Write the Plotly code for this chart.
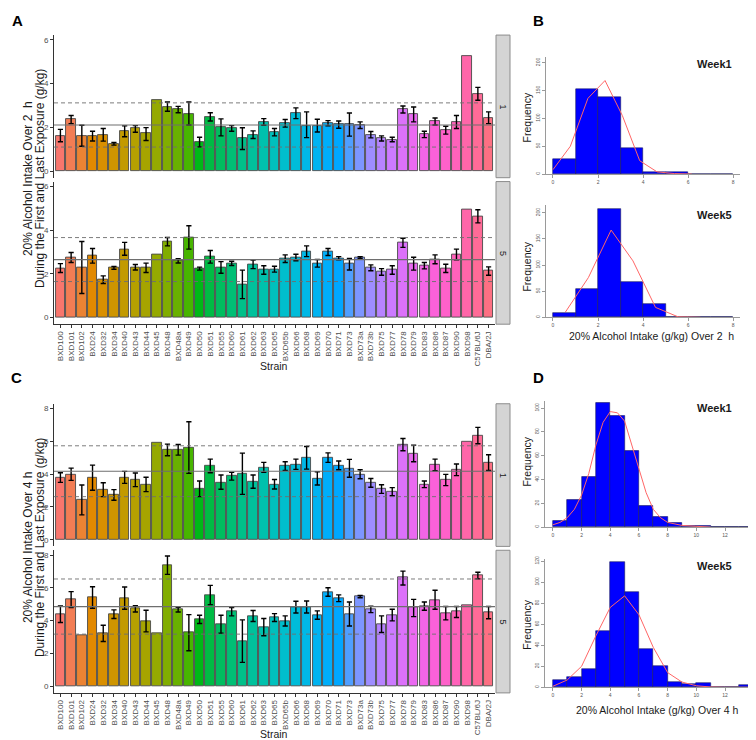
import math
import plotly.graph_objects as go

W, H = 756, 740

strains = ["BXD100", "BXD101", "BXD102", "BXD24", "BXD32", "BXD34", "BXD40", "BXD43", "BXD44", "BXD45",
           "BXD48", "BXD48a", "BXD49", "BXD50", "BXD51", "BXD55", "BXD60", "BXD61", "BXD62", "BXD63",
           "BXD65", "BXD65b", "BXD66", "BXD68", "BXD69", "BXD70", "BXD71", "BXD73", "BXD73a", "BXD73b",
           "BXD75", "BXD77", "BXD78", "BXD79", "BXD83", "BXD86", "BXD87", "BXD90", "BXD98", "C57BL/6J", "DBA/2J"]

# panel A, 2 h intake, week 1 / week 5 (mean, upper and lower end of error bar)
a1_mean = [1.61, 2.37, 1.61, 1.60, 1.67, 1.26, 1.82, 1.95, 1.72, 3.27, 2.93, 2.83, 2.63, 1.34, 2.49, 2.01, 1.96,
           1.49, 1.67, 2.26, 1.78, 2.20, 2.64, 2.08, 2.08, 2.19, 2.14, 2.14, 2.10, 1.67, 1.49, 1.44, 2.83, 2.60,
           1.69, 2.28, 1.87, 2.23, 5.24, 3.54, 2.43]
a1_hi = [1.91, 2.54, 2.10, 1.82, 1.95, 1.31, 2.07, 2.08, 1.99, None, 3.16, 2.96, 3.16, 1.55, 2.67, 2.39, 2.08,
         1.98, 1.84, 2.40, 1.95, 2.36, 2.89, 2.71, 2.37, 2.31, 2.29, 2.66, 2.25, 1.81, 1.61, 1.55, 2.98, 2.93,
         1.82, 2.43, 2.05, 2.54, None, 3.83, 2.71]
a1_lo = [1.34, 2.17, 1.14, 1.38, 1.37, 1.19, 1.57, 1.78, 1.40, None, 2.74, 2.67, 2.11, 1.11, 2.29, 1.61, 1.82,
         0.99, 1.49, 2.10, 1.61, 2.01, 2.40, 1.53, 1.79, 2.07, 1.96, 1.60, 1.95, 1.52, 1.38, 1.34, 2.66, 2.25,
         1.53, 2.11, 1.69, 1.95, None, 3.24, 2.17]

a2_mean = [2.26, 2.75, 2.31, 2.84, 1.73, 2.27, 3.13, 2.31, 2.29, 2.87, 3.48, 2.60, 3.66, 2.24, 2.79, 2.31, 2.49,
           1.53, 2.43, 2.18, 2.21, 2.70, 2.75, 3.04, 2.47, 3.01, 2.72, 2.46, 2.75, 2.27, 2.09, 2.18, 3.44, 2.47,
           2.38, 2.67, 2.24, 2.89, 4.92, 4.63, 2.13]
a2_hi = [2.47, 2.98, 3.48, 3.16, 1.91, 2.34, 3.44, 2.43, 2.49, None, 3.66, 2.69, 4.20, 2.31, 3.07, 2.56, 2.58,
         2.17, 2.63, 2.37, 2.35, 2.87, 2.90, 3.28, 2.66, 3.16, 2.79, 2.70, 2.79, 2.41, 2.24, 2.37, 3.63, 2.76,
         2.52, 2.87, 2.44, 3.13, None, 4.93, 2.32]
a2_lo = [2.06, 2.52, 1.10, 2.49, 1.56, 2.21, 2.85, 2.18, 2.06, None, 3.28, 2.50, 3.13, 2.17, 2.49, 2.03, 2.38,
         0.87, 2.24, 1.98, 2.08, 2.52, 2.60, 2.79, 2.31, 2.84, 2.64, 2.18, 2.70, 2.14, 1.94, 1.98, 3.21, 2.17,
         2.23, 2.46, 2.06, 2.64, None, 4.33, 1.94]

# panel C, 4 h intake
c1_mean = [3.81, 3.99, 2.43, 3.79, 3.06, 2.73, 3.81, 3.66, 3.38, 5.91, 5.51, 5.51, 5.61, 3.12, 4.51, 3.50, 3.89,
           4.03, 3.54, 4.41, 3.38, 4.49, 4.60, 5.00, 3.74, 5.00, 4.53, 4.35, 3.99, 3.48, 3.10, 2.94, 5.81, 5.26,
           3.38, 4.55, 3.64, 4.25, 5.98, 6.35, 4.70]
c1_hi = [4.09, 4.37, 3.34, 4.55, 3.48, 3.06, 4.17, 4.07, 3.81, None, 5.83, 5.81, 7.19, 3.58, 4.92, 3.95, 4.11,
         5.28, 3.95, 4.72, 3.68, 4.76, 4.92, 5.69, 4.15, 5.30, 4.80, 4.90, 4.27, 3.74, 3.36, 3.18, 6.17, 5.77,
         3.58, 4.92, 3.99, 4.62, None, 6.85, 5.18]
c1_lo = [3.50, 3.62, 1.52, 3.02, 2.63, 2.41, 3.44, 3.24, 2.94, None, 5.12, 5.16, 4.05, 2.63, 4.09, 3.08, 3.64,
         2.77, 3.14, 4.11, 3.10, 4.23, 4.29, 4.31, 3.34, 4.72, 4.27, 3.81, 3.72, 3.20, 2.83, 2.69, 5.43, 4.76,
         3.18, 4.21, 3.30, 3.91, None, 5.85, 4.22]

c2_mean = [4.39, 5.30, 3.14, 5.45, 3.22, 4.39, 5.38, 4.74, 3.99, 3.22, 7.39, 4.68, 3.28, 4.07, 5.57, 3.79, 4.55,
           2.75, 4.27, 3.60, 4.19, 3.99, 4.84, 4.84, 4.33, 5.75, 5.38, 4.41, 5.47, 4.70, 3.79, 4.35, 6.62, 4.80,
           4.90, 5.26, 4.45, 4.55, 4.95, 6.75, 4.49]
c2_hi = [4.90, 5.77, None, 6.07, 3.72, 4.66, 6.05, 4.92, 4.64, None, 7.94, 4.82, 4.37, 4.33, 6.15, 4.33, 4.80,
         4.05, 4.62, 4.13, 4.43, 4.29, 5.18, 5.20, 4.60, 6.01, 5.57, 5.14, 5.53, 4.88, 4.29, 4.70, 7.02, 5.30,
         5.14, 5.85, 4.86, 4.86, None, 6.95, 4.86]
c2_lo = [3.89, 4.80, None, 4.76, 2.73, 4.13, 4.70, 4.53, 3.32, None, 6.82, 4.53, 2.17, 3.83, 4.98, 3.24, 4.29,
         1.46, 3.95, 3.08, 3.95, 3.68, 4.47, 4.47, 4.09, 5.49, 5.16, 3.68, 5.40, 4.49, 3.28, 3.99, 6.17, 4.25,
         4.64, 4.70, 4.05, 4.19, None, 6.55, 4.12]

# population mean and sd (solid and dashed reference lines)
a1_avg, a1_sd = 2.11, 1.01
a2_avg, a2_sd = 2.655, 1.005
c1_avg, c1_sd = 4.18, 1.55
c2_avg, c2_sd = 4.86, 1.68

# histograms
b_edges = [0, 1, 2, 3, 4, 5, 6, 7, 8]
b1_counts = [26, 152, 139, 46, 4, 3, 0, 0]
b2_counts = [9, 55, 208, 68, 26, 0, 0, 0]
b1_line_x = [0.0, 0.77, 1.55, 2.31, 3.08, 3.85, 4.62, 5.39, 6.16]
b1_line_y = [8, 50, 136, 168, 105, 24, 4, 1, 0]
b2_line_x = [0.55, 1.57, 2.58, 3.55, 4.55, 5.55, 6.55]
b2_line_y = [10, 76, 167, 108, 19, 1, 0]

d_edges = [0, 1, 2, 3, 4, 5, 6, 7, 8, 9, 10, 11, 12, 13, 14]
d1_counts = [5, 23, 42, 104, 93, 64, 18, 9, 4, 1, 1, 0, 0, 0]
d2_counts = [7, 10, 17, 54, 119, 91, 36, 20, 5, 3, 4, 0, 0, 2]
d1_line_x = [0, 0.5, 1, 1.5, 2, 2.5, 3, 3.5, 4, 4.5, 5, 5.5, 6, 6.5, 7, 7.5, 8, 9, 10, 11]
d1_line_y = [2, 4, 8, 15, 27, 45, 69, 88, 97, 96, 89, 70, 49, 29, 15, 8, 4, 1.5, 0.5, 0]
d2_line_x = [0, 1, 2, 3, 4, 5, 6, 7, 8, 9, 10, 11, 12, 13, 14]
d2_line_y = [1, 7, 20, 49, 76, 87, 69, 38, 14, 5, 1.5, 0.3, 0, 0, 0]


def hcl_hex(h, c, l):
    # same conversion as R's grDevices::hcl
    hr = math.radians(h)
    U = c * math.cos(hr)
    V = c * math.sin(hr)
    Y = 100 * (((l + 16) / 116) ** 3 if l > 7.999592 else l / 903.3)
    u = U / (13 * l) + 0.1978398
    v = V / (13 * l) + 0.4683363
    X = 9.0 * Y * u / (4 * v)
    Z = -X / 3 - 5 * Y + 3 * Y / v
    X, Y, Z = X / 100, Y / 100, Z / 100
    rgb = [3.240479 * X - 1.537150 * Y - 0.498535 * Z,
           -0.969256 * X + 1.875992 * Y + 0.041556 * Z,
           0.055648 * X - 0.204043 * Y + 1.057311 * Z]
    out = []
    for t in rgb:
        t = 12.92 * t if t <= 0.0031308 else 1.055 * t ** (1 / 2.4) - 0.055
        out.append(int(round(255 * min(max(t, 0), 1))))
    return "#%02X%02X%02X" % tuple(out)


n = len(strains)
colors = [hcl_hex(15 + 360 * i / n, 100, 65) for i in range(n)]


def xd(p0, p1):
    return [p0 / W, p1 / W]


def yd(top, bottom):
    return [1 - bottom / H, 1 - top / H]


FONT = "Liberation Sans, Arial, sans-serif"
fig = go.Figure()

bar_panels = [
    ("x", "y", a1_mean, a1_hi, a1_lo, a1_avg, a1_sd),
    ("x2", "y2", a2_mean, a2_hi, a2_lo, a2_avg, a2_sd),
    ("x3", "y3", c1_mean, c1_hi, c1_lo, c1_avg, c1_sd),
    ("x4", "y4", c2_mean, c2_hi, c2_lo, c2_avg, c2_sd),
]

shapes = []
for xa, ya, m, hi, lo, avg, sd in bar_panels:
    fig.add_trace(go.Bar(x=strains, y=m, xaxis=xa, yaxis=ya, width=0.9,
                         marker=dict(color=colors, line=dict(color="#4a4a4a", width=0.9)),
                         showlegend=False))
    ey = [v if h is not None else None for v, h in zip(m, hi)]
    fig.add_trace(go.Scatter(
        x=strains, y=ey, xaxis=xa, yaxis=ya, mode="markers",
        marker=dict(size=1, color="rgba(0,0,0,0)"), showlegend=False,
        error_y=dict(type="data", symmetric=False,
                     array=[(h - v) if h is not None else None for v, h in zip(m, hi)],
                     arrayminus=[(v - l) if l is not None else None for v, l in zip(m, lo)],
                     color="black", thickness=1.4, width=2.6)))
    xdom = xa + " domain"
    shapes.append(dict(type="line", xref=xdom, yref=ya, x0=0, x1=1, y0=avg, y1=avg,
                       line=dict(color="#6e6e6e", width=1.2), layer="above"))
    for yy in (avg - sd, avg + sd):
        shapes.append(dict(type="line", xref=xdom, yref=ya, x0=0, x1=1, y0=yy, y1=yy,
                           line=dict(color="#6e6e6e", width=0.9, dash="4px,3px"), layer="above"))

hist_panels = [
    ("x5", "y5", b_edges, b1_counts, b1_line_x, b1_line_y),
    ("x6", "y6", b_edges, b2_counts, b2_line_x, b2_line_y),
    ("x7", "y7", d_edges, d1_counts, d1_line_x, d1_line_y),
    ("x8", "y8", d_edges, d2_counts, d2_line_x, d2_line_y),
]
for xa, ya, edges, counts, lx, ly in hist_panels:
    centers = [(a + b) / 2 for a, b in zip(edges[:-1], edges[1:])]
    fig.add_trace(go.Bar(x=centers, y=counts, width=1, xaxis=xa, yaxis=ya, showlegend=False,
                         marker=dict(color="#0000FF", line=dict(color="#1a1a5a", width=0.6))))
    fig.add_trace(go.Scatter(x=lx, y=ly, mode="lines", xaxis=xa, yaxis=ya, showlegend=False,
                             line=dict(color="#FF6666", width=1)))

# facet geometry (pixels)
A1 = (24.2, 167.6)
A2 = (171.5, 314.9)
C1 = (394.9, 538.3)
C2 = (542.2, 685.6)
PX = (46, 487)

cat_axis = dict(type="category", categoryorder="array", categoryarray=strains, range=[-0.6, n - 0.4],
                showgrid=False, zeroline=False, domain=xd(*PX))
val_axis = dict(showgrid=False, zeroline=False, showline=True, linecolor="#333333", linewidth=1,
                ticks="outside", ticklen=3, tickcolor="#333333",
                tickfont=dict(size=8, color="#4D4D4D", family=FONT))

top_x = dict(cat_axis, showticklabels=False, ticks="", showline=False)
bot_x = dict(cat_axis, showline=True, linecolor="#333333", linewidth=1, ticks="outside", ticklen=3,
             tickcolor="#333333", tickangle=-90, tickfont=dict(size=8, color="#4D4D4D", family=FONT))

layout = dict(
    width=W, height=H, margin=dict(l=0, r=0, t=0, b=0),
    paper_bgcolor="white", plot_bgcolor="white", bargap=0,
    font=dict(family=FONT, color="#1A1A1A"),
    xaxis=dict(top_x, anchor="y"),
    yaxis=dict(val_axis, domain=yd(*A1), range=[-0.3, 6.22], tickvals=[0, 2, 4, 6], anchor="x"),
    xaxis2=dict(bot_x, anchor="y2"),
    yaxis2=dict(val_axis, domain=yd(*A2), range=[-0.3, 6.22], tickvals=[0, 2, 4, 6], anchor="x2"),
    xaxis3=dict(top_x, anchor="y3"),
    yaxis3=dict(val_axis, domain=yd(*C1), range=[-0.4, 8.29], tickvals=[0, 2, 4, 6, 8], anchor="x3"),
    xaxis4=dict(bot_x, anchor="y4"),
    yaxis4=dict(val_axis, domain=yd(*C2), range=[-0.4, 8.29], tickvals=[0, 2, 4, 6, 8], anchor="x4"),
)

hist_x = dict(showgrid=False, zeroline=False, showline=True, linecolor="#9a9a9a", linewidth=1,
              ticks="outside", ticklen=3, tickcolor="#9a9a9a",
              tickfont=dict(size=5, color="#555555", family=FONT))
hist_y = dict(hist_x, tickangle=-90)

layout["xaxis5"] = dict(hist_x, domain=xd(538, 732), range=[-0.31, 8.3], tickvals=[0, 2, 4, 6, 8], anchor="y5")
layout["yaxis5"] = dict(hist_y, domain=yd(46.4, 164), range=[0, 210], tickvals=[0, 50, 100, 150, 200], anchor="x5")
layout["xaxis6"] = dict(hist_x, domain=xd(538, 732), range=[-0.31, 8.3], tickvals=[0, 2, 4, 6, 8], anchor="y6")
layout["yaxis6"] = dict(hist_y, domain=yd(195, 308), range=[0, 215], tickvals=[0, 50, 100, 150, 200], anchor="x6")
layout["xaxis7"] = dict(hist_x, domain=xd(537, 750), range=[-0.55, 14.3], tickvals=list(range(0, 15, 2)), anchor="y7")
layout["yaxis7"] = dict(hist_y, domain=yd(392, 519), range=[0, 106], tickvals=list(range(0, 101, 20)), anchor="x7")
layout["xaxis8"] = dict(hist_x, domain=xd(537, 750), range=[-0.55, 14.3], tickvals=list(range(0, 15, 2)), anchor="y8")
layout["yaxis8"] = dict(hist_y, domain=yd(551, 680), range=[0, 122], tickvals=list(range(0, 121, 20)), anchor="x8")

fig.update_layout(**layout)

annotations = []


def note(text, px, py, size, angle=0, bold=False, color="#1A1A1A"):
    if bold:
        text = "<b>" + text + "</b>"
    annotations.append(dict(text=text, x=px / W, y=1 - py / H, xref="paper", yref="paper",
                            showarrow=False, textangle=angle, xanchor="center", yanchor="middle",
                            font=dict(size=size, color=color, family=FONT)))


# facet strips
for (top, bottom), label in [(A1, "1"), (A2, "5"), (C1, "1"), (C2, "5")]:
    shapes.append(dict(type="rect", xref="paper", yref="paper", x0=488 / W, x1=502 / W,
                       y0=1 - bottom / H, y1=1 - top / H, fillcolor="#D4D4D4",
                       line=dict(color="#8C8C8C", width=1)))
    note(label, 495, (top + bottom) / 2, 9, angle=90)

# bar chart titles
note("20% Alcohol Intake Over 2\u00a0 h", 20, 169, 12, angle=-90)
note("During the First and Last Exposure (g/kg)", 32, 169, 12, angle=-90)
note("20% Alcohol Intake Over 4 h", 20, 540, 12, angle=-90)
note("During the First and Last Exposure (g/kg)", 32, 540, 12, angle=-90)
note("Strain", 266, 357, 10.5)
note("Strain", 266, 727, 10.5)

# histogram labels
note("Week1", 706, 53, 11, bold=True)
note("Week5", 706, 205, 11, bold=True)
note("Week1", 706, 399, 11, bold=True)
note("Week5", 706, 558, 11, bold=True)
for py in (107, 257, 453, 617):
    note("Frequency", 519, py, 10.5, angle=-90)
note("20% Alcohol Intake (g/kg) Over 2\u00a0 h", 643, 327, 10.5)
note("20% Alcohol Intake (g/kg) Over 4 h", 649, 703, 10.5)

# panel letters
note("A", 9, 10, 15, bold=True, color="black")
note("B", 530, 10, 15, bold=True, color="black")
note("C", 8, 368, 15, bold=True, color="black")
note("D", 530, 368, 15, bold=True, color="black")

fig.update_layout(shapes=shapes, annotations=annotations)

fig.write_html("out.html")
